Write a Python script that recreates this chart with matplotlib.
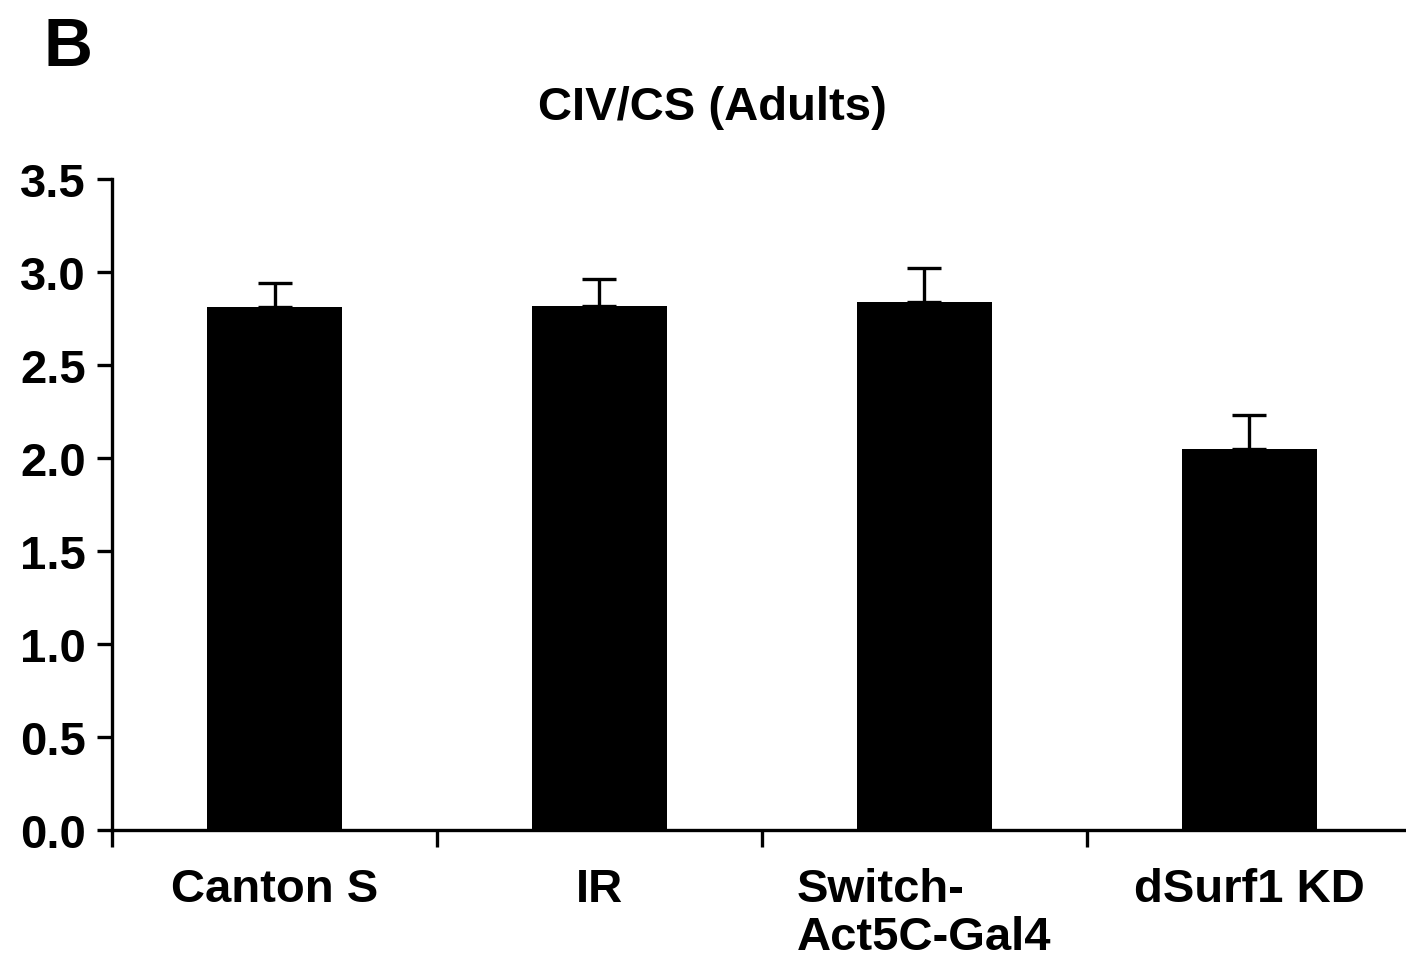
import numpy as np
import matplotlib.pyplot as plt

# CIV/CS ratio in adult flies
groups = ["Canton S", "IR", "Switch-\nAct5C-Gal4", "dSurf1 KD"]
means = [2.81, 2.82, 2.84, 2.05]
sems = [0.13, 0.14, 0.18, 0.18]

plt.rcParams['font.family'] = ['Liberation Sans', 'DejaVu Sans']
plt.rcParams['font.weight'] = 'bold'

fig = plt.figure(figsize=(14.06, 9.70), dpi=100)
ax = fig.add_axes([0.0797, 0.1433, 0.9243, 0.6711])

x = np.arange(len(groups))
ax.bar(x, means, width=0.415, color='black', zorder=2)
ax.errorbar(x, means, yerr=[np.zeros(len(sems)), sems], fmt='none',
            ecolor='black', elinewidth=2.4, capsize=12, capthick=2.4, zorder=1)

ax.set_xlim(-0.5, len(groups) - 0.5)
ax.set_ylim(0, 3.5)
ax.set_yticks(np.arange(0, 3.51, 0.5))
ax.set_yticklabels([f"{v:.1f}" for v in np.arange(0, 3.51, 0.5)], fontsize=34, fontweight='bold')

# ticks sit between categories, labels centred under bars
ax.set_xticks(np.arange(-0.5, len(groups) - 0.5, 1.0))
ax.set_xticklabels([])
for xi, name in zip(x, groups):
    ax.text(xi, -0.2, name, ha='center', va='top', multialignment='left',
            fontsize=34, fontweight='bold', linespacing=1.12,
            transform=ax.transData, clip_on=False)

for side in ['top', 'right']:
    ax.spines[side].set_visible(False)
for side in ['left', 'bottom']:
    ax.spines[side].set_linewidth(2.4)
ax.tick_params(axis='y', length=11, width=2.4, pad=8)
ax.tick_params(axis='x', length=12, width=2.4)

fig.text(0.507, 0.889, "CIV/CS (Adults)", ha='center', va='center', fontsize=34, fontweight='bold')
fig.text(0.031, 0.951, "B", ha='left', va='center', fontsize=49, fontweight='bold')

fig.savefig("out.png", dpi=100)
